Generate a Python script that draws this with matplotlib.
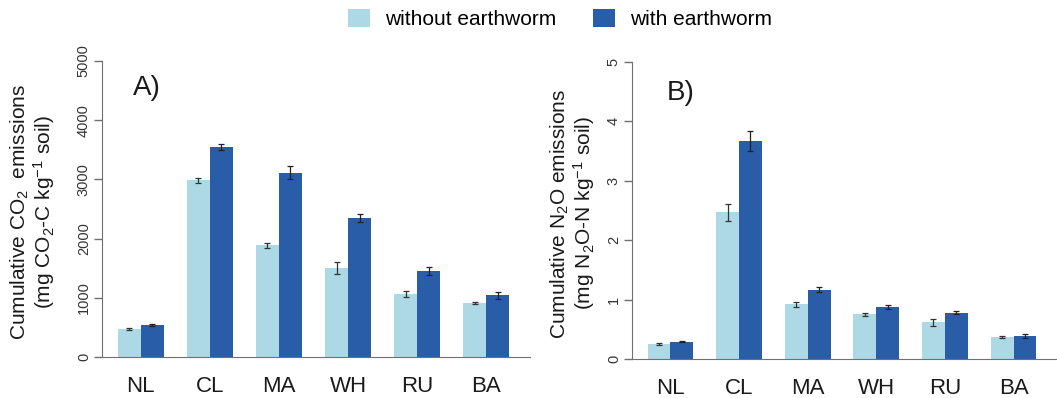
import numpy as np
import matplotlib
matplotlib.use("Agg")
import matplotlib.pyplot as plt
from matplotlib.patches import Patch

plt.rcParams['font.family'] = ['Liberation Sans', 'DejaVu Sans']
plt.rcParams['mathtext.fontset'] = 'custom'
plt.rcParams['mathtext.rm'] = 'Liberation Sans'
plt.rcParams['mathtext.it'] = 'Liberation Sans:italic'
plt.rcParams['mathtext.default'] = 'regular'

sites = ['NL', 'CL', 'MA', 'WH', 'RU', 'BA']

# CO2 (mg CO2-C / kg soil)
co2_without = [473, 2984, 1886, 1503, 1064, 912]
co2_without_se = [20, 40, 40, 100, 55, 25]
co2_with = [535, 3542, 3114, 2348, 1458, 1042]
co2_with_se = [15, 50, 110, 70, 65, 60]

# N2O (mg N2O-N / kg soil)
n2o_without = [0.25, 2.47, 0.92, 0.75, 0.62, 0.37]
n2o_without_se = [0.02, 0.14, 0.04, 0.03, 0.06, 0.01]
n2o_with = [0.29, 3.67, 1.17, 0.87, 0.78, 0.39]
n2o_with_se = [0.01, 0.165, 0.05, 0.035, 0.02, 0.03]

light = '#ADD8E6'
dark = '#2A5DA8'
axcol = '#707070'
txtcol = '#1a1a1a'

fig = plt.figure(figsize=(10.57, 3.98), dpi=100)
axA = fig.add_axes([102 / 1057, 41 / 398, 428 / 1057, 296 / 398])
axB = fig.add_axes([632 / 1057, 39 / 398, 425 / 1057, 297 / 398])


def draw(ax, v0, e0, v1, e1, ymax, yticks, ylabel, tag, labx, tagx, tagy):
    g = np.arange(len(sites)) * 3
    x0 = g + 1.5
    x1 = g + 2.5
    ax.bar(x0, v0, width=1, color=light, edgecolor='none')
    ax.bar(x1, v1, width=1, color=dark, edgecolor='none')
    ax.errorbar(x0, v0, yerr=e0, fmt='none', ecolor='#333333',
                elinewidth=0.9, capsize=2.5, capthick=0.9)
    ax.errorbar(x1, v1, yerr=e1, fmt='none', ecolor='#222222',
                elinewidth=0.9, capsize=2.5, capthick=0.9)
    ax.set_xlim(0.32, 18.9)
    ax.set_ylim(0, ymax)
    ax.set_xticks(g + 2)
    ax.set_xticklabels(sites)
    ax.tick_params(axis='x', length=0, pad=14, labelsize=16, labelcolor=txtcol)
    ax.set_yticks(yticks)
    ax.set_yticklabels([str(t) for t in yticks], rotation=90, va='center')
    ax.tick_params(axis='y', length=6, width=1, color=axcol, pad=2,
                   labelsize=10.5, labelcolor='#333333')
    for s in ['top', 'right']:
        ax.spines[s].set_visible(False)
    ax.spines['left'].set_bounds(0, ymax)
    ax.spines['left'].set_color(axcol)
    ax.spines['bottom'].set_color(axcol)
    ax.set_ylabel(ylabel, fontsize=15, color=txtcol, linespacing=1.0,
                  va='center')
    ax.yaxis.set_label_coords(labx, 0.49)
    ax.text(tagx, tagy, tag, fontsize=20, color=txtcol,
            ha='left', va='center')
    ax.set_facecolor('none')


draw(axA, co2_without, co2_without_se, co2_with, co2_with_se, 5000,
     [0, 1000, 2000, 3000, 4000, 5000],
     'Cumulative CO$_2$  emissions\n(mg CO$_2$-C kg$^{-1}$ soil)', 'A)',
     -0.161, 1.67, 4540)
draw(axB, n2o_without, n2o_without_se, n2o_with, n2o_with_se, 5,
     [0, 1, 2, 3, 4, 5],
     'Cumulative N$_2$O emissions\n(mg N$_2$O-N kg$^{-1}$ soil)', 'B)',
     -0.139, 1.85, 4.47)

handles = [Patch(facecolor=light, edgecolor='none'),
           Patch(facecolor=dark, edgecolor='none')]
fig.legend(handles, ['without earthworm', 'with earthworm'],
           loc='center', bbox_to_anchor=(560 / 1057, 1 - 19 / 398),
           ncol=2, frameon=False, fontsize=15, handlelength=1.05,
           handleheight=0.95, handletextpad=0.7, columnspacing=1.8)

fig.savefig('out.png', dpi=100)
